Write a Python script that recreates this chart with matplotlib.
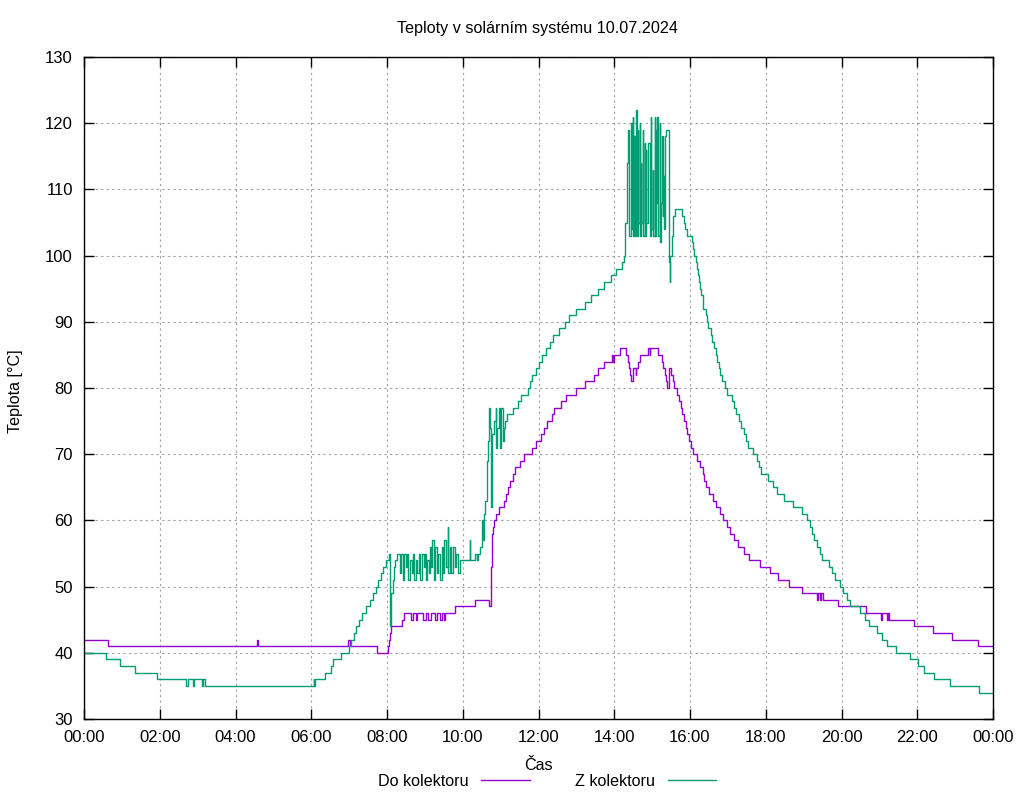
import matplotlib.pyplot as plt

plt.rcParams['font.family'] = ['Liberation Sans', 'DejaVu Sans']

# teplota do kolektoru (zpatecka)
do_times = ["00:00", "00:38", "04:34", "04:36", "06:59", "07:01", "07:44", "08:02", "08:03", "08:05",
            "08:07", "08:23", "08:27", "08:38", "08:41", "08:46", "08:48", "08:57", "09:01", "09:05",
            "09:09", "09:16", "09:19", "09:24", "09:27", "09:30", "09:32", "09:47", "10:19", "10:42",
            "10:44", "10:45", "10:46", "10:47", "10:48", "10:50", "10:52", "10:58", "11:06", "11:08",
            "11:12", "11:15", "11:19", "11:23", "11:31", "11:37", "11:50", "11:56", "12:04", "12:09",
            "12:14", "12:21", "12:25", "12:35", "12:43", "12:59", "13:14", "13:28", "13:35", "13:43",
            "13:56", "13:58", "13:59", "14:09", "14:19", "14:21", "14:23", "14:25", "14:26", "14:30",
            "14:34", "14:35", "14:38", "14:41", "14:54", "14:56", "14:57", "15:10", "15:15", "15:18",
            "15:20", "15:22", "15:24", "15:27", "15:30", "15:33", "15:35", "15:39", "15:43", "15:46",
            "15:48", "15:51", "15:53", "15:56", "15:59", "16:01", "16:04", "16:11", "16:16", "16:20",
            "16:22", "16:25", "16:30", "16:36", "16:41", "16:48", "16:52", "16:58", "17:03", "17:10",
            "17:16", "17:26", "17:34", "17:51", "18:07", "18:19", "18:37", "18:57", "19:21", "19:22",
            "19:26", "19:27", "19:30", "19:55", "20:39", "21:03", "21:04", "21:12", "21:13", "21:15",
            "21:55", "22:25", "22:55", "23:36", "24:00"]
do_temps = [42, 41, 42, 41, 42, 41, 40, 41, 42, 43,
            44, 45, 46, 45, 46, 45, 46, 45, 46, 45,
            46, 45, 46, 45, 46, 45, 46, 47, 48, 47,
            50, 53, 56, 58, 59, 60, 61, 62, 63, 64,
            65, 66, 67, 68, 69, 70, 71, 72, 73, 74,
            75, 76, 77, 78, 79, 80, 81, 82, 83, 84,
            85, 84, 85, 86, 85, 84, 83, 82, 81, 83,
            82, 83, 84, 85, 86, 85, 86, 85, 84, 83,
            82, 81, 80, 83, 82, 81, 80, 79, 78, 77,
            76, 75, 74, 73, 72, 71, 70, 69, 68, 67,
            66, 65, 64, 63, 62, 61, 60, 59, 58, 57,
            56, 55, 54, 53, 52, 51, 50, 49, 48, 49,
            48, 49, 48, 47, 46, 45, 46, 45, 46, 45,
            44, 43, 42, 41, 41]

# teplota z kolektoru
z_times = ["00:00", "00:35", "00:57", "01:21", "01:56", "02:42", "02:44", "02:53", "02:54", "03:07",
           "03:08", "03:12", "06:04", "06:05", "06:06", "06:22", "06:31", "06:34", "06:47", "07:00",
           "07:03", "07:08", "07:11", "07:16", "07:20", "07:27", "07:33", "07:38", "07:43", "07:46",
           "07:50", "07:54", "07:58", "08:03", "08:05", "08:07", "08:09", "08:11", "08:13", "08:16",
           "08:21", "08:22", "08:25", "08:27", "08:30", "08:32", "08:34", "08:36", "08:39", "08:41",
           "08:43", "08:46", "08:48", "08:51", "08:52", "08:55", "08:58", "09:00", "09:02", "09:04",
           "09:06", "09:08", "09:10", "09:12", "09:14", "09:16", "09:19", "09:21", "09:24", "09:27",
           "09:29", "09:31", "09:33", "09:36", "09:37", "09:40", "09:42", "09:45", "09:48", "09:50",
           "09:53", "09:56", "10:11", "10:12", "10:19", "10:22", "10:24", "10:27", "10:30", "10:31",
           "10:32", "10:33", "10:35", "10:38", "10:39", "10:40", "10:42", "10:43", "10:45", "10:46",
           "10:47", "10:50", "10:52", "10:53", "10:55", "10:57", "10:59", "11:01", "11:03", "11:05",
           "11:07", "11:10", "11:20", "11:28", "11:33", "11:44", "11:47", "11:50", "11:56", "12:01",
           "12:06", "12:12", "12:18", "12:23", "12:32", "12:42", "12:48", "12:59", "13:14", "13:23",
           "13:34", "13:44", "13:55", "14:03", "14:12", "14:16", "14:17", "14:20", "14:22", "14:24",
           "14:26", "14:28", "14:29", "14:30", "14:32", "14:33", "14:35", "14:36", "14:37", "14:38",
           "14:40", "14:41", "14:42", "14:43", "14:45", "14:46", "14:48", "14:49", "14:50", "14:51",
           "14:54", "14:56", "14:58", "14:59", "15:01", "15:02", "15:04", "15:05", "15:06", "15:07",
           "15:08", "15:10", "15:12", "15:13", "15:14", "15:15", "15:17", "15:18", "15:19", "15:20",
           "15:22", "15:26", "15:27", "15:28", "15:29", "15:31", "15:33", "15:36", "15:48", "15:50",
           "15:52", "15:55", "16:03", "16:04", "16:07", "16:09", "16:11", "16:12", "16:14", "16:16",
           "16:17", "16:20", "16:21", "16:25", "16:27", "16:29", "16:33", "16:35", "16:38", "16:41",
           "16:43", "16:46", "16:48", "16:50", "16:55", "16:58", "17:06", "17:09", "17:13", "17:18",
           "17:21", "17:25", "17:29", "17:32", "17:40", "17:46", "17:50", "17:53", "18:04", "18:11",
           "18:18", "18:29", "18:43", "18:57", "19:05", "19:10", "19:13", "19:17", "19:21", "19:26",
           "19:29", "19:40", "19:45", "19:50", "19:58", "20:02", "20:08", "20:14", "20:29", "20:37",
           "20:44", "20:56", "21:04", "21:12", "21:26", "21:49", "22:01", "22:10", "22:26", "22:52",
           "23:38", "24:00"]
z_temps = [40, 39, 38, 37, 36, 35, 36, 35, 36, 35,
           36, 35, 36, 35, 36, 37, 38, 39, 40, 41,
           42, 43, 44, 45, 46, 47, 48, 49, 50, 51,
           52, 53, 54, 55, 44, 49, 51, 53, 54, 55,
           52, 55, 51, 55, 53, 55, 51, 54, 52, 55,
           51, 54, 52, 55, 51, 55, 53, 55, 51, 54,
           52, 56, 53, 57, 51, 56, 52, 55, 51, 56,
           52, 57, 53, 59, 52, 56, 52, 56, 53, 55,
           52, 54, 57, 54, 55, 54, 55, 56, 57, 60,
           57, 61, 63, 67, 69, 72, 77, 74, 62, 66,
           73, 75, 77, 71, 74, 77, 71, 77, 72, 74,
           75, 76, 77, 78, 79, 80, 81, 82, 83, 84,
           85, 86, 87, 88, 89, 90, 91, 92, 93, 94,
           95, 96, 97, 98, 99, 100, 105, 114, 119, 103,
           120, 104, 121, 103, 118, 103, 122, 103, 119, 105,
           120, 103, 114, 105, 119, 103, 117, 103, 116, 105,
           117, 103, 121, 104, 113, 103, 121, 103, 119, 108,
           121, 103, 120, 102, 108, 118, 106, 112, 104, 118,
           119, 112, 99, 96, 100, 103, 106, 107, 106, 105,
           104, 103, 102, 101, 100, 99, 98, 97, 96, 95,
           94, 93, 92, 91, 90, 89, 88, 87, 86, 85,
           84, 83, 82, 81, 80, 79, 78, 77, 76, 75,
           74, 73, 72, 71, 70, 69, 68, 67, 66, 65,
           64, 63, 62, 61, 60, 59, 58, 57, 56, 55,
           54, 53, 52, 51, 50, 49, 48, 47, 46, 45,
           44, 43, 42, 41, 40, 39, 38, 37, 36, 35,
           34, 34]

xticks = list(range(0, 25, 2))
xtick_labels = ["00:00", "02:00", "04:00", "06:00", "08:00", "10:00", "12:00",
                "14:00", "16:00", "18:00", "20:00", "22:00", "00:00"]
yticks = list(range(30, 131, 10))


def hours(t):
    h, m = t.split(":")
    return int(h) + int(m) / 60


do_x = [hours(t) for t in do_times]
z_x = [hours(t) for t in z_times]

fig = plt.figure(figsize=(10.24, 8), dpi=100)
ax = fig.add_axes([84 / 1024, 81 / 800, 909 / 1024, 662 / 800])

ax.plot(do_x, do_temps, drawstyle='steps-post', color='#9400d3', lw=1.0, label='Do kolektoru')
ax.plot(z_x, z_temps, drawstyle='steps-post', color='#009e73', lw=1.0, label='Z kolektoru')

ax.set_xlim(0, 24)
ax.set_ylim(30, 130)
ax.set_xticks(xticks)
ax.set_xticklabels(xtick_labels)
ax.set_yticks(yticks)
ax.tick_params(direction='in', length=7, width=1, top=True, right=True, labelsize=12)
ax.tick_params(axis='x', pad=8)
ax.tick_params(axis='y', pad=8)
ax.grid(True, color='#a0a0a0', linestyle=(0, (2, 3)), lw=0.8)
for s in ax.spines.values():
    s.set_linewidth(1.0)

fig.text(537 / 1024, 1 - 28 / 800, "Teploty v solárním systému 10.07.2024",
         ha='center', va='center', fontsize=11.6)
fig.text(16 / 1024, 1 - 391 / 800, "Teplota [°C]", rotation=90,
         ha='center', va='center', fontsize=11.6)
fig.text(538 / 1024, 1 - 765 / 800, "Čas", ha='center', va='center', fontsize=11.6)

fig.legend(loc='center', bbox_to_anchor=(547 / 1024, 1 - 781 / 800), ncol=2,
           frameon=False, markerfirst=False, fontsize=11.6, handlelength=3.0,
           handletextpad=0.8, columnspacing=2.8)

fig.savefig("out.png", dpi=100)
